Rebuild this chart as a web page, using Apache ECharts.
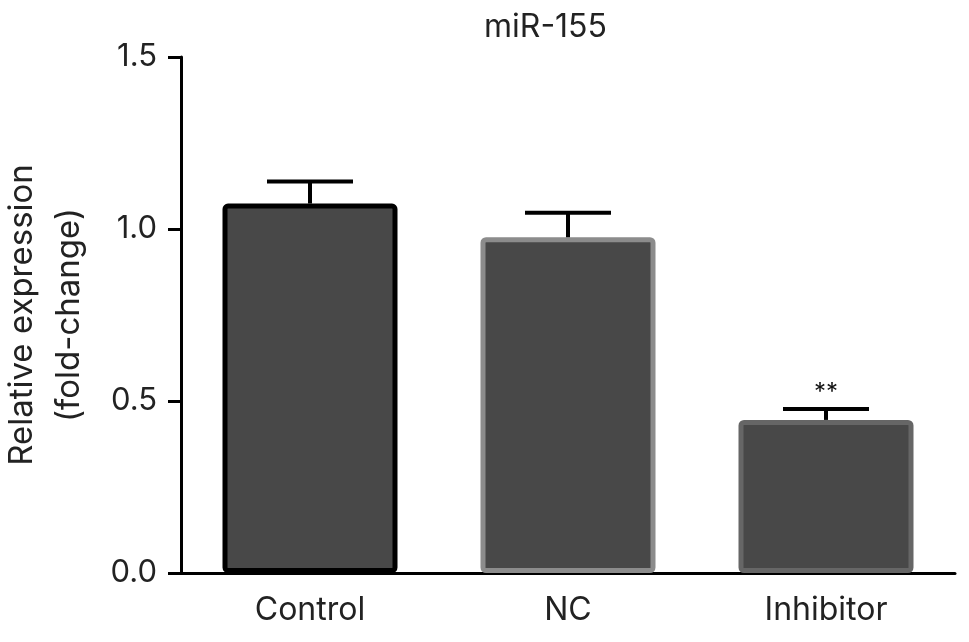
<!DOCTYPE html>
<html>
<head>
<meta charset="utf-8">
<script src="https://cdn.jsdelivr.net/npm/echarts@6/dist/echarts.min.js"></script>
<style>
  html, body { margin: 0; padding: 0; background: #fff; }
  #chart { width: 969px; height: 642px; }
</style>
</head>
<body>
<div id="chart"></div>
<script>
// data
var groups = ['Control', 'NC', 'Inhibitor'];
var means = [1.074, 0.976, 0.445];
var errors = [0.064, 0.071, 0.032];
var marks = ['', '', '**'];
var borderColors = ['#000000', '#8c8c8c', '#666666'];
var yTicks = [0.0, 0.5, 1.0, 1.5];

var font = 'Inter, Liberation Sans, Arial, sans-serif';
var chart = echarts.init(document.getElementById('chart'));

chart.setOption({
  animation: false,
  title: {
    text: 'miR-155',
    left: 484,
    top: 11,
    padding: 0,
    textStyle: { fontFamily: font, fontSize: 32, fontWeight: 'normal', color: '#222' }
  },
  grid: { left: 181, right: 14, top: 57, bottom: 69, outerBoundsMode: 'none', containLabel: false },
  xAxis: {
    type: 'category',
    data: groups,
    axisLine: { lineStyle: { color: '#000', width: 3 } },
    axisTick: { alignWithLabel: true, length: 13, lineStyle: { color: '#000', width: 3 } },
    axisLabel: { fontFamily: font, fontSize: 32, color: '#222', margin: 21 }
  },
  yAxis: {
    type: 'value',
    min: yTicks[0],
    max: yTicks[yTicks.length - 1],
    interval: 0.5,
    name: 'Relative expression\n(fold-change)',
    nameLocation: 'middle',
    nameGap: 88,
    nameTextStyle: { fontFamily: font, fontSize: 33, color: '#222', lineHeight: 47 },
    splitLine: { show: false },
    axisLine: { show: true, lineStyle: { color: '#000', width: 3 } },
    axisTick: { show: true, length: 13, lineStyle: { color: '#000', width: 3 } },
    axisLabel: {
      fontFamily: font, fontSize: 31, color: '#222', margin: 24,
      formatter: function (v) { return v.toFixed(1); }
    }
  },
  series: [
    {
      type: 'bar',
      barWidth: 175,
      data: means.map(function (v, i) {
        return {
          value: v,
          itemStyle: {
            color: '#484848',
            borderColor: borderColors[i],
            borderWidth: 5,
            borderRadius: 3
          }
        };
      }),
      z: 2
    },
    {
      type: 'custom',
      data: means.map(function (v, i) { return [i, v, v + errors[i]]; }),
      z: 3,
      renderItem: function (params, api) {
        var i = api.value(0);
        var base = api.coord([i, api.value(1)]);
        var top = api.coord([i, api.value(2)]);
        var half = 43;
        var children = [
          { type: 'line', shape: { x1: base[0], y1: base[1], x2: top[0], y2: top[1] },
            style: { stroke: '#000', lineWidth: 4 } },
          { type: 'line', shape: { x1: top[0] - half, y1: top[1], x2: top[0] + half, y2: top[1] },
            style: { stroke: '#000', lineWidth: 4 } }
        ];
        if (marks[i]) {
          children.push({
            type: 'text',
            style: {
              text: marks[i], x: top[0], y: top[1] - 4,
              align: 'center', verticalAlign: 'bottom',
              font: '24px ' + font, fill: '#111'
            }
          });
        }
        return { type: 'group', children: children };
      }
    }
  ]
});
</script>
</body>
</html>
